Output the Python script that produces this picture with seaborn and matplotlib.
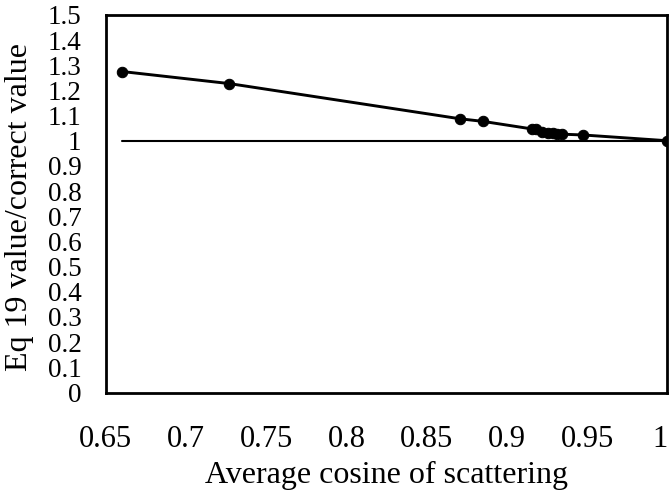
import matplotlib
matplotlib.use("Agg")
import matplotlib.pyplot as plt
import seaborn as sns
import pandas as pd
from matplotlib.ticker import MultipleLocator

sns.set_theme(style="white")
plt.rcParams['font.family'] = ['Liberation Serif', 'DejaVu Serif']

# Data
avg_cosine = [0.66, 0.727, 0.871, 0.885, 0.9155, 0.918, 0.9217, 0.9258, 0.929, 0.9314, 0.9345, 0.9473, 1.0]
ratio = [1.275, 1.227, 1.087, 1.077, 1.047, 1.045, 1.033, 1.032, 1.030, 1.028, 1.026, 1.023, 1.0]
ref_x = [0.66, 1.0]
ref_y = [1.0, 1.0]
x_ticks = [0.65, 0.7, 0.75, 0.8, 0.85, 0.9, 0.95, 1.0]
x_ticklabels = ["0.65", "0.7", "0.75", "0.8", "0.85", "0.9", "0.95", "1"]
y_ticks = [i / 10 for i in range(16)]
y_ticklabels = ["0", "0.1", "0.2", "0.3", "0.4", "0.5", "0.6", "0.7", "0.8", "0.9",
                "1", "1.1", "1.2", "1.3", "1.4", "1.5"]

df = pd.DataFrame({"x": avg_cosine, "y": ratio})
ref = pd.DataFrame({"x": ref_x, "y": ref_y})

fig = plt.figure(figsize=(6.7, 4.95), dpi=100)
ax = fig.add_axes([0.158, 0.207, 0.838, 0.763])

sns.lineplot(data=ref, x="x", y="y", ax=ax, color="black", linewidth=1.5)
sns.lineplot(data=df, x="x", y="y", ax=ax, color="black", linewidth=2.1,
             marker="o", markersize=7.5, markeredgecolor="black", markerfacecolor="black")

ax.set_xlim(0.65, 1.0)
ax.set_ylim(0, 1.5)
ax.xaxis.set_minor_locator(MultipleLocator(0.025))
ax.yaxis.set_minor_locator(MultipleLocator(0.05))
ax.set_xticks(x_ticks)
ax.set_xticklabels(x_ticklabels)
ax.set_yticks(y_ticks)
ax.set_yticklabels(y_ticklabels)
ax.get_xticklabels()[-1].set_horizontalalignment("right")

ax.tick_params(axis="x", which="both", direction="inout", length=7, width=0.8,
               labelsize=22, pad=20, colors="black")
ax.tick_params(axis="y", which="both", direction="inout", length=7, width=0.8,
               labelsize=19.5, pad=14, colors="black")
ax.tick_params(which="minor", length=5)

for s in ax.spines.values():
    s.set_linewidth(2.0)
    s.set_color("black")

ax.set_xlabel("Average cosine of scattering", fontsize=23, labelpad=5, color="black")
ax.set_ylabel("Eq 19 value/correct value", fontsize=23, color="black")
ax.yaxis.set_label_coords(-0.128, 0.49)

fig.savefig("out.png", dpi=100)
